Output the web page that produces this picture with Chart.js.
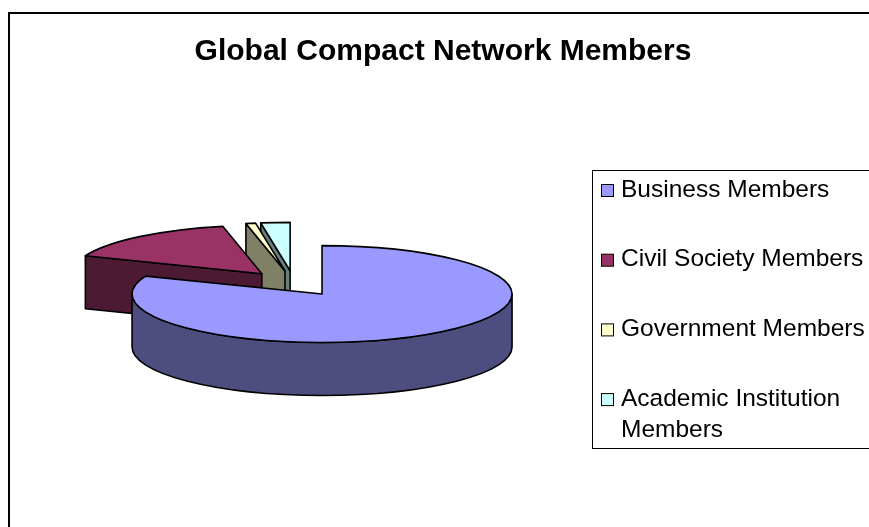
<!DOCTYPE html>
<html>
<head>
<meta charset="utf-8">
<script src="https://cdn.jsdelivr.net/npm/chart.js@4/dist/chart.umd.min.js"></script>
<style>
html,body{margin:0;padding:0;background:#fff;}
canvas{display:block;}
</style>
</head>
<body>
<canvas id="c" width="869" height="527"></canvas>
<script>
// ---- data ----
const chartTitle = 'Global Compact Network Members';
const categories = ['Business Members', 'Civil Society Members', 'Government Members', 'Academic Institution Members'];
const memberCounts = [2950, 570, 30, 90];

// ---- styles ----
const topColors  = ['#9999FF', '#993366', '#FFFFCC', '#CCFFFF'];
const sideColors = ['#4D4D80', '#4D1A33', '#808066', '#668080'];
const FONT = '"Liberation Sans", Arial, Helvetica, sans-serif';
const PIE_RADIUS = 190;   // px
const TILT = 0.255;       // vertical squash of the 3D view
const DEPTH = 53;         // px thickness of the pie
const EXPLODE = 50;       // px explosion distance
const LEGEND_AREA_W = 298;

Chart.defaults.font.family = FONT;

// frame around the chart
const framePlugin = {
  id: 'frame',
  beforeDraw(chart) {
    const ctx = chart.ctx;
    ctx.save();
    ctx.fillStyle = '#fff';
    ctx.fillRect(0, 0, chart.width, chart.height);
    ctx.strokeStyle = '#000';
    ctx.lineWidth = 2;
    ctx.strokeRect(9, 13, chart.width + 20, chart.height + 20);
    ctx.restore();
  }
};

function wrapText(ctx, text, maxW) {
  const words = text.split(' ');
  const lines = [];
  let cur = '';
  words.forEach(w => {
    const t = cur ? cur + ' ' + w : w;
    if (cur && ctx.measureText(t).width > maxW) { lines.push(cur); cur = w; }
    else cur = t;
  });
  if (cur) lines.push(cur);
  return lines;
}

// legend drawn inside a layout box on the right side
const sideLegendPlugin = {
  id: 'sideLegend',
  beforeInit(chart) {
    const box = {
      position: 'right', weight: 0, fullSize: false, options: {},
      left: 0, top: 0, right: 0, bottom: 0, width: 0, height: 0,
      isHorizontal() { return false; },
      update(maxWidth, maxHeight) { this.width = LEGEND_AREA_W; this.height = maxHeight; },
      getPadding() { return {top: 0, left: 0, right: 0, bottom: 0}; },
      draw() {
        const ctx = chart.ctx;
        const ds = chart.data.datasets[0];
        const bx = this.left + 21;
        const by = 170, bh = 278;
        ctx.save();
        ctx.strokeStyle = '#000';
        ctx.lineWidth = 1;
        ctx.strokeRect(bx + 0.5, by + 0.5, chart.width, bh);
        ctx.font = '24.5px ' + FONT;
        ctx.textBaseline = 'middle';
        ctx.textAlign = 'left';
        const textX = bx + 29;
        let y = by + 20;
        chart.data.labels.forEach((label, i) => {
          ctx.fillStyle = ds.backgroundColor[i];
          ctx.fillRect(bx + 9.5, y - 5.5, 12, 12);
          ctx.strokeStyle = '#000';
          ctx.strokeRect(bx + 9.5, y - 5.5, 12, 12);
          ctx.fillStyle = '#000';
          const lines = wrapText(ctx, label, chart.width - textX - 1);
          lines.forEach((ln, j) => ctx.fillText(ln, textX, y + j * 31));
          y += 69.7;
        });
        ctx.restore();
      }
    };
    Chart.layouts.addBox(chart, box);
  }
};

// draws the pie's arcs as an exploded 3D pie
const pie3dPlugin = {
  id: 'pie3d',
  beforeDatasetsDraw(chart) {
    const ctx = chart.ctx;
    const ds = chart.data.datasets[0];
    const meta = chart.getDatasetMeta(0);
    const arcs = meta.data;
    if (!arcs.length) return false;
    const cy = arcs[0].y;
    const proj = (d, fn) => {
      ctx.save();
      ctx.translate(0, cy * (1 - TILT) + d);
      ctx.scale(1, TILT);
      fn();
      ctx.restore();
    };
    const items = arcs.map((arc, i) => {
      const p = arc.getProps(['x', 'y', 'startAngle', 'endAngle', 'outerRadius'], true);
      const off = arc.options.offset || 0;
      const mid = (p.startAngle + p.endAngle) / 2;
      return {i, p, ox: p.x + Math.cos(mid) * off, oy: p.y + Math.sin(mid) * off};
    });
    items.sort((a, b) => a.oy - b.oy);
    ctx.save();
    ctx.lineJoin = 'round';
    ctx.lineWidth = ds.borderWidth;
    ctx.strokeStyle = ds.borderColor;
    items.forEach(({i, p, ox, oy}) => {
      const r = p.outerRadius, s = p.startAngle, e = p.endAngle;
      if (e - s <= 0) return;
      const side = ds.sideColor[i], top = ds.backgroundColor[i];
      const radial = (ang) => {
        ctx.beginPath();
        proj(0, () => { ctx.moveTo(ox, oy); ctx.lineTo(ox + r * Math.cos(ang), oy + r * Math.sin(ang)); });
        proj(DEPTH, () => { ctx.lineTo(ox + r * Math.cos(ang), oy + r * Math.sin(ang)); ctx.lineTo(ox, oy); });
        ctx.closePath();
        ctx.fillStyle = side; ctx.fill(); ctx.stroke();
      };
      if (Math.cos(s) < -1e-6) radial(s);
      if (Math.cos(e) > 1e-6) radial(e);
      for (let k = -1; k <= 2; k++) {
        const lo = Math.max(s, 2 * Math.PI * k), hi = Math.min(e, 2 * Math.PI * k + Math.PI);
        if (hi > lo) {
          ctx.beginPath();
          proj(0, () => ctx.arc(ox, oy, r, lo, hi));
          proj(DEPTH, () => ctx.arc(ox, oy, r, hi, lo, true));
          ctx.closePath();
          ctx.fillStyle = side; ctx.fill(); ctx.stroke();
        }
      }
      ctx.beginPath();
      proj(0, () => { ctx.moveTo(ox, oy); ctx.arc(ox, oy, r, s, e); ctx.closePath(); });
      ctx.fillStyle = top; ctx.fill(); ctx.stroke();
    });
    ctx.restore();
    return false;
  }
};

new Chart(document.getElementById('c'), {
  type: 'pie',
  data: {
    labels: categories,
    datasets: [{
      data: memberCounts,
      backgroundColor: topColors,
      sideColor: sideColors,
      borderColor: '#000000',
      borderWidth: 1.6,
      offset: EXPLODE
    }]
  },
  options: {
    responsive: false,
    animation: false,
    events: [],
    radius: PIE_RADIUS,
    layout: { padding: { left: 17, right: 0, top: 0, bottom: 30 } },
    plugins: {
      legend: { display: false },
      tooltip: { enabled: false },
      title: {
        display: true,
        text: chartTitle,
        color: '#000',
        font: { size: 30, weight: 'bold', family: FONT },
        padding: { top: 34, bottom: 0 }
      }
    }
  },
  plugins: [framePlugin, sideLegendPlugin, pie3dPlugin]
});
</script>
</body>
</html>
